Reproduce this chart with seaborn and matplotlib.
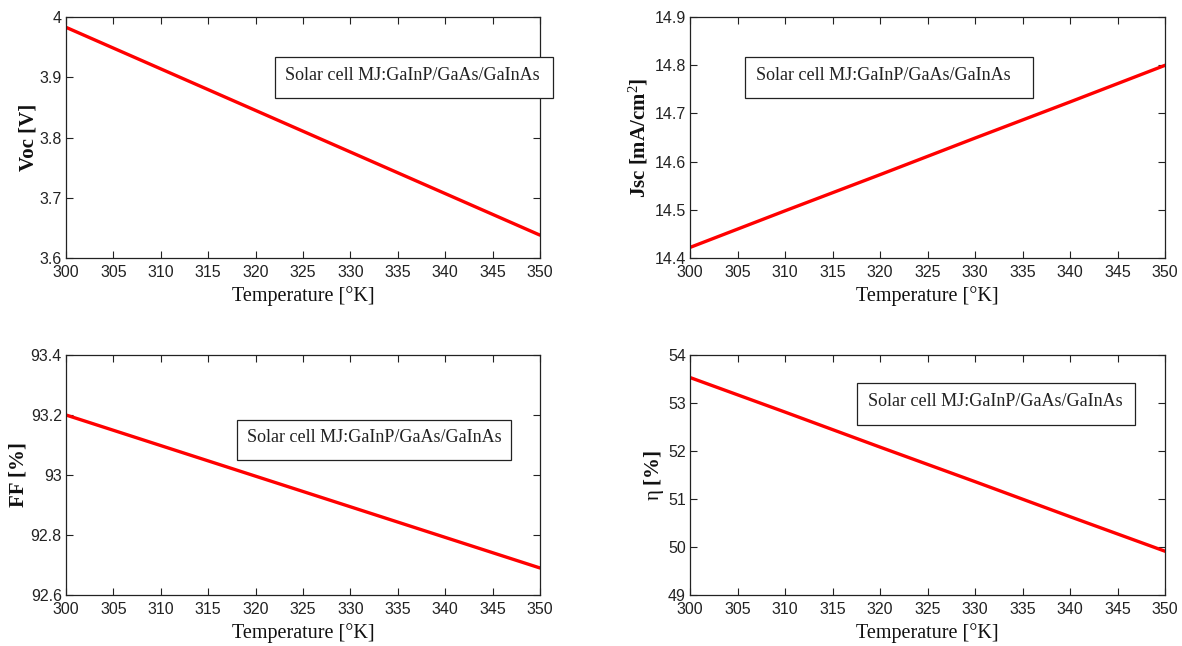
import matplotlib
matplotlib.use("Agg")
import matplotlib.pyplot as plt
from matplotlib.patches import Rectangle
from matplotlib import font_manager
import seaborn as sns
import pandas as pd

# Temperature sweep and cell parameters
temperature = [300, 310, 320, 330, 340, 350]
voc = [3.983, 3.914, 3.845, 3.776, 3.707, 3.638]
jsc = [14.422, 14.498, 14.573, 14.649, 14.724, 14.800]
ff = [93.200, 93.098, 92.996, 92.894, 92.792, 92.690]
eta = [53.53, 52.81, 52.08, 51.36, 50.63, 49.91]

cell_label = "Solar cell MJ:GaInP/GaAs/GaInAs"
x_label = "Temperature [°K]"


def available(name):
    try:
        font_manager.findfont(name, fallback_to_default=False)
        return True
    except Exception:
        return False


tick_family = [f for f in ["Liberation Sans Narrow", "Liberation Sans", "DejaVu Sans"]
               if available(f)]
serif = ["Liberation Serif", "DejaVu Serif"]

sns.set_theme(style="white")
plt.rcParams["font.family"] = tick_family
plt.rcParams["mathtext.fontset"] = "custom"
plt.rcParams["mathtext.rm"] = "Liberation Serif"
plt.rcParams["mathtext.it"] = "Liberation Serif:italic"
plt.rcParams["mathtext.bf"] = "Liberation Serif:bold"

fig = plt.figure(figsize=(11.82, 6.46), dpi=100)

panels = [
    # rect, values, ylabel, bold, ylabel x, ylim, yticks, yticklabels, box
    ([0.0558, 0.6006, 0.401, 0.373], voc, "Voc [V]", True, -0.057, (3.6, 4.0),
     [3.6, 3.7, 3.8, 3.9, 4.0], ["3.6", "3.7", "3.8", "3.9", "4"],
     (0.441, 1.027, 0.664, 0.834)),
    ([0.5838, 0.6006, 0.402, 0.373], jsc, "Jsc [mA/cm$^2$]", True, -0.083,
     (14.4, 14.9), [14.4, 14.5, 14.6, 14.7, 14.8, 14.9],
     ["14.4", "14.5", "14.6", "14.7", "14.8", "14.9"],
     (0.116, 0.722, 0.664, 0.834)),
    ([0.0558, 0.079, 0.401, 0.3715], ff, "FF [%]", True, -0.080, (92.6, 93.4),
     [92.6, 92.8, 93.0, 93.2, 93.4], ["92.6", "92.8", "93", "93.2", "93.4"],
     (0.361, 0.939, 0.5625, 0.729)),
    ([0.5838, 0.079, 0.402, 0.3715], eta, r"$\mathrm{\eta}\ \mathbf{[\%]}$", False,
     -0.050, (49, 54), [49, 50, 51, 52, 53, 54],
     ["49", "50", "51", "52", "53", "54"],
     (0.352, 0.937, 0.708, 0.883)),
]

for rect, values, ylabel, bold, ylab_x, ylim, yticks, yticklabels, box in panels:
    ax = fig.add_axes(rect)
    df = pd.DataFrame({"T": temperature, "v": values})
    sns.lineplot(data=df, x="T", y="v", ax=ax, color="#ff0000", linewidth=2.4)
    ax.set_xlim(300, 350)
    ax.set_ylim(*ylim)
    ax.set_xticks(range(300, 351, 5))
    ax.set_xticklabels([str(t) for t in range(300, 351, 5)], fontsize=11.5)
    ax.set_yticks(yticks)
    ax.set_yticklabels(yticklabels, fontsize=11.5)
    ax.tick_params(direction="in", length=5, width=0.8, top=True, right=True,
                   bottom=True, left=True, colors="#222222")
    ax.tick_params(axis="x", pad=5)
    ax.tick_params(axis="y", pad=3)
    for s in ax.spines.values():
        s.set_color("#222222")
        s.set_linewidth(0.9)
    ax.set_xlabel(x_label, family=serif, fontsize=14.5, color="#111111")
    ax.xaxis.set_label_coords(0.5, -0.118)
    ax.set_ylabel(ylabel, family=serif, fontsize=15,
                  fontweight="bold" if bold else "normal", color="#111111")
    ax.yaxis.set_label_coords(ylab_x, 0.5)
    x0, x1, y0, y1 = box
    ax.add_patch(Rectangle((x0, y0), x1 - x0, y1 - y0, transform=ax.transAxes,
                           facecolor="white", edgecolor="#222222", linewidth=0.9,
                           clip_on=False, zorder=5))
    ax.text(x0 + 0.022, (y0 + y1) / 2 + 0.01, cell_label, transform=ax.transAxes,
            ha="left", va="center", fontsize=13, family=serif,
            color="#222222", zorder=6)

fig.savefig("out.png", dpi=100)
